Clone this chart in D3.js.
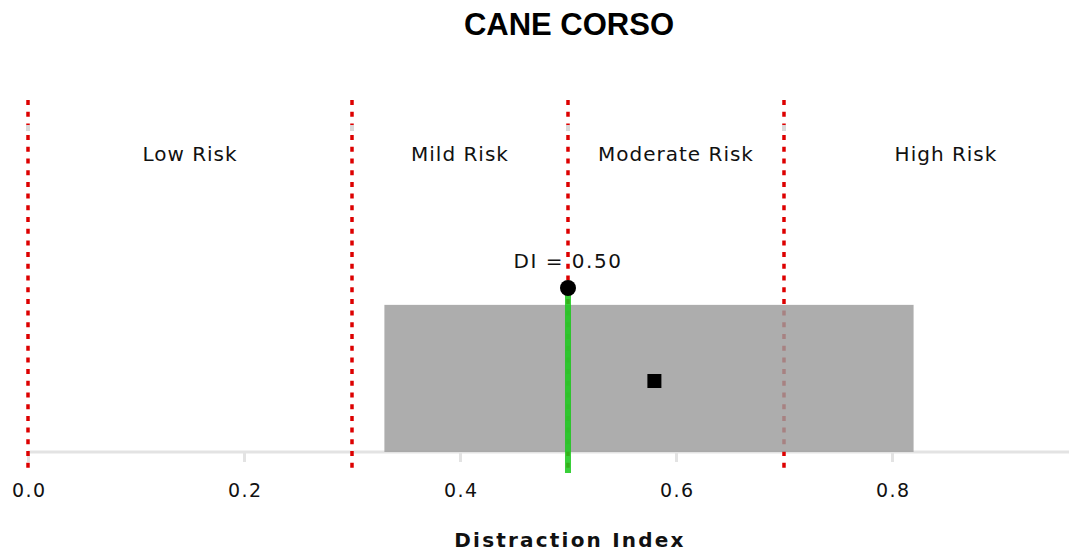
<!DOCTYPE html>
<html><head><meta charset="utf-8">
<script src="https://cdn.jsdelivr.net/npm/d3@7"></script>
<style>body{margin:0;background:#fff;} svg{display:block;}</style>
</head><body>
<script>
const title = "CANE CORSO";
const xTicks = [0.0, 0.2, 0.4, 0.6, 0.8];
const thresholds = [0.0, 0.3, 0.5, 0.7];
const zoneLabels = ["Low Risk", "Mild Risk", "Moderate Risk", "High Risk"];
const zoneCenters = [0.15, 0.4, 0.6, 0.85];
const boxRange = [0.33, 0.82];
const boxMean = 0.58;
const diValue = 0.50;
const xLabel = "Distraction Index";

const W = 1069, H = 552;
const svg = d3.select("body").append("svg").attr("width", W).attr("height", H);
const x = d3.scaleLinear().domain([0, 0.9639]).range([28, 1069]);
const y = d3.scaleLinear().domain([0, 1]).range([452, 100]);

// axis baseline
svg.append("line").attr("x1", x(0)).attr("x2", W).attr("y1", 452).attr("y2", 452)
  .attr("stroke", "#e3e3e3").attr("stroke-width", 3);
const ax = svg.append("g").attr("transform", "translate(0,452)")
  .call(d3.axisBottom(x).tickValues(xTicks).tickFormat(d3.format(".1f")).tickSize(10).tickPadding(22));
ax.select(".domain").remove();
ax.selectAll(".tick line").attr("stroke", "#e3e3e3").attr("stroke-width", 3);
ax.selectAll(".tick text").attr("font-family", "DejaVu Sans").attr("font-size", 19)
  .attr("letter-spacing", 1.5).attr("dx", 0.75).attr("fill", "#111");

// red threshold lines
svg.selectAll(".thr").data(thresholds).enter().append("line")
  .attr("x1", d => x(d)).attr("x2", d => x(d)).attr("y1", 100).attr("y2", 473)
  .attr("stroke", "#dd0000").attr("stroke-width", 3.5).attr("stroke-dasharray", "5,6.7");

// small gray marks at top
svg.selectAll(".topmark").data(thresholds).enter().append("rect")
  .attr("x", d => x(d) - 2).attr("y", 125).attr("width", 4).attr("height", 6).attr("fill", "#d9d9d9");

// box (semi-transparent over thresholds)
svg.append("rect").attr("x", x(boxRange[0])).attr("width", x(boxRange[1]) - x(boxRange[0]))
  .attr("y", y(0.418)).attr("height", 452 - y(0.418)).attr("fill", "#9c9c9c").attr("fill-opacity", 0.83);

// green line
svg.append("line").attr("x1", x(diValue)).attr("x2", x(diValue)).attr("y1", 290).attr("y2", 473)
  .attr("stroke", "#1ec81e").attr("stroke-opacity", 0.88).attr("stroke-width", 6);

// mean square
svg.append("rect").attr("x", x(boxMean) - 7).attr("y", 374).attr("width", 14).attr("height", 14).attr("fill", "#000");

// dot
svg.append("circle").attr("cx", x(diValue)).attr("cy", 288).attr("r", 8).attr("fill", "#000");

// DI label
svg.append("text").attr("x", x(diValue)).attr("y", 268).attr("text-anchor", "middle")
  .attr("font-family", "DejaVu Sans").attr("font-size", 20).attr("letter-spacing", 1.5).attr("fill", "#111")
  .attr("xml:space", "preserve").text("DI = " + diValue.toFixed(2));

// zone labels
svg.selectAll(".zl").data(zoneLabels).enter().append("text")
  .attr("x", (d, i) => x(zoneCenters[i])).attr("y", 161).attr("text-anchor", "middle")
  .attr("font-family", "DejaVu Sans").attr("font-size", 20).attr("letter-spacing", 1)
  .attr("fill", "#111").text(d => d);

// title
svg.append("text").attr("x", 569).attr("y", 35).attr("text-anchor", "middle")
  .attr("font-family", "Liberation Sans, Arial").attr("font-weight", "bold").attr("font-size", 31)
  .attr("fill", "#000").text(title);

// x label
svg.append("text").attr("x", 570).attr("y", 547).attr("text-anchor", "middle")
  .attr("font-family", "DejaVu Sans").attr("font-weight", "bold").attr("font-size", 20)
  .attr("letter-spacing", 2.2).attr("fill", "#111").text(xLabel);
</script>
</body></html>
